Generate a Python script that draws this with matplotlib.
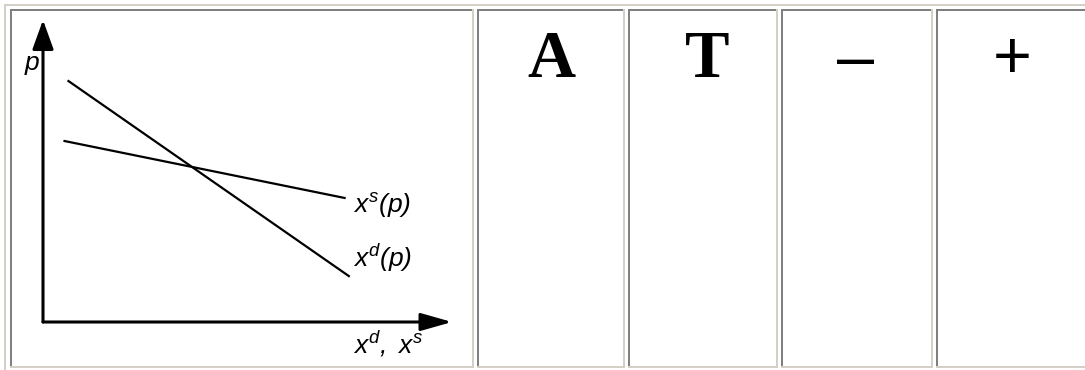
import numpy as np
import matplotlib
matplotlib.use("Agg")
from matplotlib import pyplot as plt
from matplotlib.patches import Rectangle, FancyArrowPatch

plt.rcParams['mathtext.fontset'] = 'custom'
plt.rcParams['mathtext.it'] = 'Liberation Sans:italic'
plt.rcParams['mathtext.rm'] = 'Liberation Sans:italic'

###Data###
# demand and supply curves (quantity, price), arbitrary units 0..100
demand_q = [6, 75]
demand_p = [80, 15]
supply_q = [5, 74]
supply_p = [60, 41]

curve_labels = [r'$x^s(p)$', r'$x^d(p)$']
axis_labels = [r'$p$', r'$x^d,\ x^s$']
cell_texts = ['A', 'T', '\u2013', '+']

LIGHT = '#d4d0c8'
DARK = '#808080'
W, H = 1085, 370

fig = plt.figure(figsize=(W / 100, H / 100), dpi=100)
fig.patch.set_facecolor('white')

# background axes in pixel units, for the table borders
bg = fig.add_axes([0, 0, 1, 1])
bg.set_xlim(0, W)
bg.set_ylim(H, 0)
bg.axis('off')

def px_rect(x, y, w, h, c):
    bg.add_patch(Rectangle((x, y), w, h, facecolor=c, edgecolor='none', lw=0))

# outer table border (top/left light)
px_rect(4, 4, W, 2, LIGHT)
px_rect(4, 4, 2, H, LIGHT)

lefts = [10, 477, 628, 781, 936]
rights = [474, 625, 778, 933, 1095]
top, bottom = 9, 368
for x0, x1 in zip(lefts, rights):
    px_rect(x0, top, x1 - x0, 2, DARK)
    px_rect(x0, top, 2, bottom - top, DARK)
    px_rect(x1 - 2, top, 2, bottom - top, LIGHT)
    px_rect(x0, bottom - 2, x1 - x0, 2, LIGHT)

# cell symbols
bg.text(551, 77, cell_texts[0], ha='center', va='baseline', fontsize=48,
        fontweight='bold', family='Liberation Serif')
bg.text(707, 77, cell_texts[1], ha='center', va='baseline', fontsize=48,
        fontweight='bold', family='Liberation Serif')
bg.text(856, 79, cell_texts[2], ha='center', va='baseline', fontsize=48,
        family='Liberation Sans')
bg.text(1012, 78, cell_texts[3], ha='center', va='baseline', fontsize=48,
        family='Liberation Sans')

###Chart###
x0px, y0px = 43, 322
wpx, hpx = 409, 302
ax = fig.add_axes([x0px / W, (H - y0px) / H, wpx / W, hpx / H])
ax.set_xlim(0, 100)
ax.set_ylim(0, 100)
ax.axis('off')
ax.patch.set_alpha(0)

ax.add_patch(FancyArrowPatch((0, 0), (0, 100), arrowstyle='-|>,head_length=18,head_width=6.5',
                             mutation_scale=1, lw=2.2, color='black', shrinkA=0, shrinkB=0,
                             clip_on=False))
ax.add_patch(FancyArrowPatch((0, 0), (100, 0), arrowstyle='-|>,head_length=19,head_width=5.4',
                             mutation_scale=1, lw=2.2, color='black', shrinkA=0, shrinkB=0,
                             clip_on=False))

ax.plot(demand_q, demand_p, color='black', lw=1.6, solid_capstyle='butt')
ax.plot(supply_q, supply_p, color='black', lw=1.6, solid_capstyle='butt')

ax.text(75.8, 36.1, curve_labels[0], fontsize=19, va='baseline', ha='left')
ax.text(75.8, 18.2, curve_labels[1], fontsize=19, va='baseline', ha='left')
ax.text(-4.6, 83.4, axis_labels[0], fontsize=19, va='baseline', ha='left')
ax.text(75.8, -10.3, axis_labels[1], fontsize=19, va='baseline', ha='left', clip_on=False)

fig.savefig('out.png', dpi=100)
